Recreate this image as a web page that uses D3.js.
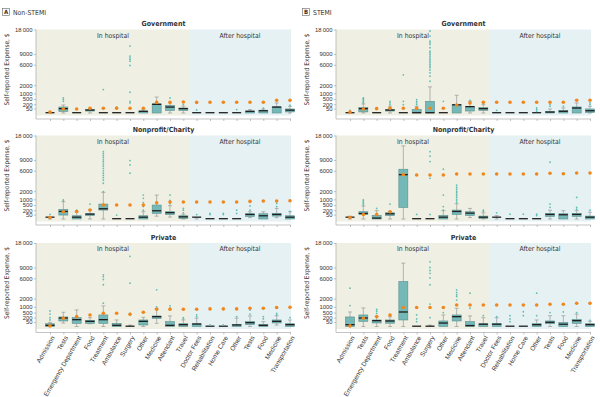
<!DOCTYPE html>
<html>
<head>
<meta charset="utf-8">
<script src="https://cdn.jsdelivr.net/npm/d3@7"></script>
<style>
  body { margin: 0; background: #fff; }
  svg { font-family: "Liberation Sans Narrow", "DejaVu Sans Condensed", "Arial Narrow", sans-serif; }
</style>
</head>
<body>
<svg width="600" height="397"></svg>
<script>
var categories = ["Admission", "Tests", "Emergency Department", "Food", "Treatment", "Ambulance",
    "Surgery", "Other", "Medicine", "Attendant", "Travel",
    "Doctor Fees", "Rehabilitation", "Home Care", "Other", "Tests", "Food", "Medicine", "Transportation"];
var inHospitalCount = 11;
var stageLabels = ["In hospital", "After hospital"];
var payers = ["Government", "Nonprofit/Charity", "Private"];
var groups = [["A", "Non-STEMI"], ["B", "STEMI"]];
var yTicks = [50, 200, 500, 1000, 2000, 6000, 9000, 18000];

// each row: [low whisker, q1, median, q3, high whisker, mean]
var nonStemiGov = [
    [0,0,0,0,0,2], [0,7,42,94,166,42], [0,0,0,0,0,42], [0,10,18,29,57,57], [0,0,0,0,0,57],
    [0,0,0,0,0,57], [0,0,0,0,0,57], [0,0,5,10,23,57], [0,0,180,215,660,290], [0,17,82,150,290,290],
    [0,17,42,65,120,315], [0,0,0,0,0,290], [0,0,0,0,0,300], [0,0,0,0,0,300], [0,0,0,0,0,300],
    [0,0,5,10,30,300], [0,0,10,20,40,300], [0,0,80,100,260,413], [0,3,17,42,113,413]];
var nonStemiGovOut = [[], [354,462,585], [], [], [65,1416], [94], [260,354,1110,5830,6940,7400,7870,8353,11560],
    [], [], [585], [180], [25], [], [], [30], [], [60], [], [160]];

var stemiGov = [
    [0,0,0,0,0,2], [0,3,42,84,210,42], [0,0,0,0,0,49], [0,10,18,35,116,57], [0,0,0,0,0,57],
    [0,0,0,29,116,57], [0,0,0,354,1760,57], [0,0,0,0,0,57], [0,0,160,180,810,166], [0,10,94,116,354,260],
    [0,18,42,74,180,296], [0,0,0,0,0,296], [0,0,0,0,0,296], [0,0,0,0,0,296], [0,0,0,0,0,296],
    [0,0,1,7,42,296], [0,0,5,18,65,296], [0,0,57,94,260,417], [0,1,10,42,116,417]];
var stemiGovOut = [[18], [260,315,380,460,540,585], [], [180,260,354], [180,354,3760], [180,260,354,462],
    [2600,3500,4160,4736,5270,5665,6080,6500,6940,7400,7870,8353,8850,9365,9890,11000,12150,12750,13360,15290,17350],
    [354], [], [417], [227], [18], [], [], [7,29,65], [116,180], [116], [], [180,260]];

var nonStemiNp = [
    [0,6,6,6,6,6], [0,40,136,238,772,136], [0,0,6,27,136,148], [0,33,54,71,206,206], [0,206,255,575,1830,503],
    [0,0,0,0,0,503], [0,0,0,0,0,503], [0,0,6,27,136,503], [20,80,162,503,1480,686], [10,54,95,136,455,742],
    [0,1,9,27,60,742], [0,6,6,6,6,742], [0,0,0,0,0,742], [0,0,0,0,0,742], [0,0,0,0,0,742],
    [5,17,47,71,136,800], [0,0,22,71,136,830], [5,22,47,80,290,830], [0,0,6,27,136,860]];
var nonStemiNpOut = [[54], [830,930], [206], [575],
    [1930,3300,3900,4400,4900,5400,6000,6600,7200,7800,8400,9000,9700,10300,11000,11700],
    [40], [5400,7550,8820], [200,400,700,1100,1480], [], [600,900,1480], [100,200,290], [50], [50,80], [50,80],
    [80,200], [200,440], [], [400,630], [150]];

var stemiNp = [
    [0,6,6,6,20,6], [0,54,71,136,440,54], [0,0,1,33,180,54], [0,30,62,100,150,136], [0,345,5010,6400,13800,5080],
    [0,0,0,0,0,5000], [0,0,0,0,0,5000], [0,0,6,33,180,5000], [0,54,136,206,600,5240], [5,33,80,136,290,5240],
    [0,1,6,22,100,5240], [0,6,6,6,30,5240], [0,0,0,0,0,5240], [0,0,0,0,0,5240], [0,0,0,0,0,5240],
    [0,17,47,80,200,5400], [0,0,40,71,180,5300], [0,17,47,80,180,5470], [0,0,6,22,120,5470]];
var stemiNpOut = [[], [500,600,700,830,930], [290], [575], [], [54], [54,4270,8500,10200,11700],
    [200,400,1480,6400], [700,850,1000,1200,1400,1600,1800,2000,2300,2600,2980], [], [150,200], [100], [60], [60],
    [30,60], [350,575,8320], [], [250,350,1200], [200]];

var nonStemiPriv = [
    [0,0,2,20,45,1], [30,79,173,235,522,173], [0,26,110,203,710,252], [20,26,61,99,200,344], [0,26,110,344,1095,450],
    [0,0,2,26,110,450], [0,0,0,0,5,385], [0,6,61,110,218,522], [26,173,235,287,860,766], [0,0,2,61,287,766],
    [0,0,6,20,110,766], [0,0,12,20,180,766], [0,0,0,0,0,800], [0,0,0,0,0,800], [0,0,4,10,180,800],
    [0,10,32,61,287,860], [0,0,2,10,61,860], [5,32,61,110,300,925], [0,0,6,20,110,955]];
var nonStemiPrivOut = [[110,200,400,625], [], [], [], [1400,4500,5700,6400,6900], [], [350,450,4850,12700], [],
    [700,1000,3470], [860,1100], [150,200], [250,350], [6], [6], [250], [400,700], [150,250], [350,450], [200]];

var stemiPriv = [
    [0,0,6,235,545,1], [0,70,173,344,887,173], [0,32,79,110,252,252], [0,28,70,110,252,344], [0,110,522,5230,10370,925],
    [0,0,0,0,0,925], [0,0,0,0,5,925], [0,0,26,79,344,925], [0,79,235,344,860,1200], [0,0,1,61,287,1200],
    [0,0,10,20,200,1200], [0,0,10,26,200,1200], [0,0,0,0,0,1200], [0,0,0,0,0,1200], [0,0,6,20,110,1200],
    [0,20,40,79,300,1280], [0,0,10,40,300,1280], [0,26,79,130,400,1400], [0,0,6,20,70,1400]];
var stemiPrivOut = [[1130,3790], [], [450,600,750], [], [], [60,150,344],
    [200,1300,4500,6100,7300,8100,9000,10800], [500], [1800,2320,2600,3000,3470], [860,2870], [300], [250],
    [60,150,300], [300,560], [300,2870], [500], [550], [500], [100]];

var panelData = [
    [[nonStemiGov, nonStemiGovOut], [nonStemiNp, nonStemiNpOut], [nonStemiPriv, nonStemiPrivOut]],
    [[stemiGov, stemiGovOut], [stemiNp, stemiNpOut], [stemiPriv, stemiPrivOut]]];

var svg = d3.select("svg");
var colX = [0, 300];
var rowTop = [29.5, 135.5, 243];
var plotH = 83.5;
var axisLeft = 36, plotRight = 291;
var textColor = "#333";

var x = d3.scalePoint().domain(d3.range(categories.length)).range([50, 290]);
var split = (x(inHospitalCount - 1) + x(inHospitalCount)) / 2 - 1;
var bw = 9;

groups.forEach(function(grp, c) {
    var col = svg.append("g").attr("transform", "translate(" + colX[c] + ",0)");

    // panel label with boxed letter
    col.append("rect").attr("x", 2.5).attr("y", 8.5).attr("width", 7).attr("height", 7)
        .attr("fill", "#fff").attr("stroke", "#666").attr("stroke-width", 0.6);
    col.append("text").attr("x", 6).attr("y", 14.2).attr("text-anchor", "middle")
        .attr("font-size", 6).attr("font-weight", "bold").attr("fill", textColor).text(grp[0]);
    col.append("text").attr("x", 13).attr("y", 14.5).attr("font-size", 6.8)
        .attr("fill", textColor).text(grp[1]);

    payers.forEach(function(payer, r) {
        var top = rowTop[r];
        var zero = top + plotH;
        var axisY = top + 89.5;
        var y = d3.scaleSqrt().domain([0, 18000]).range([zero, top]);
        var g = col.append("g");
        var stats = panelData[c][r][0];
        var outs = panelData[c][r][1];

        g.append("text").attr("x", (axisLeft + plotRight) / 2).attr("y", top - 3.5)
            .attr("text-anchor", "middle").attr("font-size", 7).attr("font-weight", "bold")
            .attr("fill", textColor).text(payer);

        // stage backgrounds
        g.append("rect").attr("x", axisLeft).attr("y", top).attr("width", split - axisLeft)
            .attr("height", 86).attr("fill", "#eff0e3");
        g.append("rect").attr("x", split).attr("y", top).attr("width", plotRight - split)
            .attr("height", 86).attr("fill", "#e6f1f4");
        g.append("text").attr("x", (axisLeft + split) / 2 + 0.5).attr("y", top + 8)
            .attr("text-anchor", "middle").attr("font-size", 6.8).attr("fill", textColor).text(stageLabels[0]);
        g.append("text").attr("x", (split + plotRight) / 2).attr("y", top + 8)
            .attr("text-anchor", "middle").attr("font-size", 6.8).attr("fill", textColor).text(stageLabels[1]);

        // y axis
        var ya = g.append("g").attr("transform", "translate(" + axisLeft + ",0)")
            .call(d3.axisLeft(y).tickValues(yTicks).tickSize(2).tickPadding(1.5)
                .tickFormat(function(d) { return d === 18000 ? "18\u2009000" : d; }));
        ya.select(".domain").remove();
        ya.selectAll("line").attr("stroke", "#999").attr("stroke-width", 0.6);
        ya.selectAll("text").attr("font-size", 5.9).attr("fill", textColor).attr("font-family", null);
        g.append("line").attr("x1", axisLeft).attr("x2", axisLeft).attr("y1", top).attr("y2", axisY)
            .attr("stroke", "#aaa").attr("stroke-width", 0.7);

        g.append("text").attr("transform", "translate(9," + (top + 40) + ") rotate(-90)")
            .attr("text-anchor", "middle").attr("font-size", 6.5).attr("fill", textColor)
            .text("Self-reported Expense, $");

        // x axis
        var xa = g.append("g").attr("transform", "translate(0," + axisY + ")")
            .call(d3.axisBottom(x).tickSize(2).tickPadding(2)
                .tickFormat(function(i) { return r === 2 ? categories[i] : ""; }));
        xa.select(".domain").attr("d", "M" + axisLeft + ",0H" + plotRight)
            .attr("stroke", "#aaa").attr("stroke-width", 0.7);
        xa.selectAll("line").attr("stroke", "#999").attr("stroke-width", 0.6);
        xa.selectAll("text").attr("font-size", 6.5).attr("fill", textColor).attr("font-family", null)
            .attr("text-anchor", "end").attr("dy", null)
            .attr("transform", "translate(1,3) rotate(-60)");

        // boxes
        var bx = g.selectAll(".bx").data(stats).enter().append("g").attr("class", "bx")
            .attr("transform", function(d, i) { return "translate(" + x(i) + ",0)"; });
        bx.append("line").attr("y1", function(d) { return y(d[0]); }).attr("y2", function(d) { return y(d[1]); })
            .attr("stroke", "#9a9a9a").attr("stroke-width", 0.7);
        bx.append("line").attr("y1", function(d) { return y(d[3]); }).attr("y2", function(d) { return y(d[4]); })
            .attr("stroke", "#9a9a9a").attr("stroke-width", 0.7);
        bx.filter(function(d) { return d[4] > d[3]; }).append("line")
            .attr("x1", -2).attr("x2", 2).attr("y1", function(d) { return y(d[4]); }).attr("y2", function(d) { return y(d[4]); })
            .attr("stroke", "#9a9a9a").attr("stroke-width", 0.7);
        bx.filter(function(d) { return d[1] > d[0]; }).append("line")
            .attr("x1", -2).attr("x2", 2).attr("y1", function(d) { return y(d[0]); }).attr("y2", function(d) { return y(d[0]); })
            .attr("stroke", "#9a9a9a").attr("stroke-width", 0.7);
        bx.filter(function(d) { return d[3] > d[1]; }).append("rect")
            .attr("x", -bw / 2).attr("width", bw)
            .attr("y", function(d) { return y(d[3]); })
            .attr("height", function(d) { return y(d[1]) - y(d[3]); })
            .attr("fill", "#74b9b8").attr("stroke", "#5a8e8e").attr("stroke-width", 0.6);
        bx.append("line").attr("x1", -bw / 2).attr("x2", bw / 2)
            .attr("y1", function(d) { return y(d[2]) - 0.3; }).attr("y2", function(d) { return y(d[2]) - 0.3; })
            .attr("stroke", "#1e1e1e").attr("stroke-width", 1.3);

        // outliers
        bx.each(function(d, i) {
            d3.select(this).selectAll(".out").data(outs[i]).enter().append("circle").attr("class", "out")
                .attr("cy", function(v) { return y(v); }).attr("r", 0.9)
                .attr("fill", "#62bdb5");
        });

        // means
        bx.append("circle").attr("cy", function(d) { return y(d[5]); }).attr("r", 1.8)
            .attr("fill", "#f0861c");
    });
});
</script>
</body>
</html>
